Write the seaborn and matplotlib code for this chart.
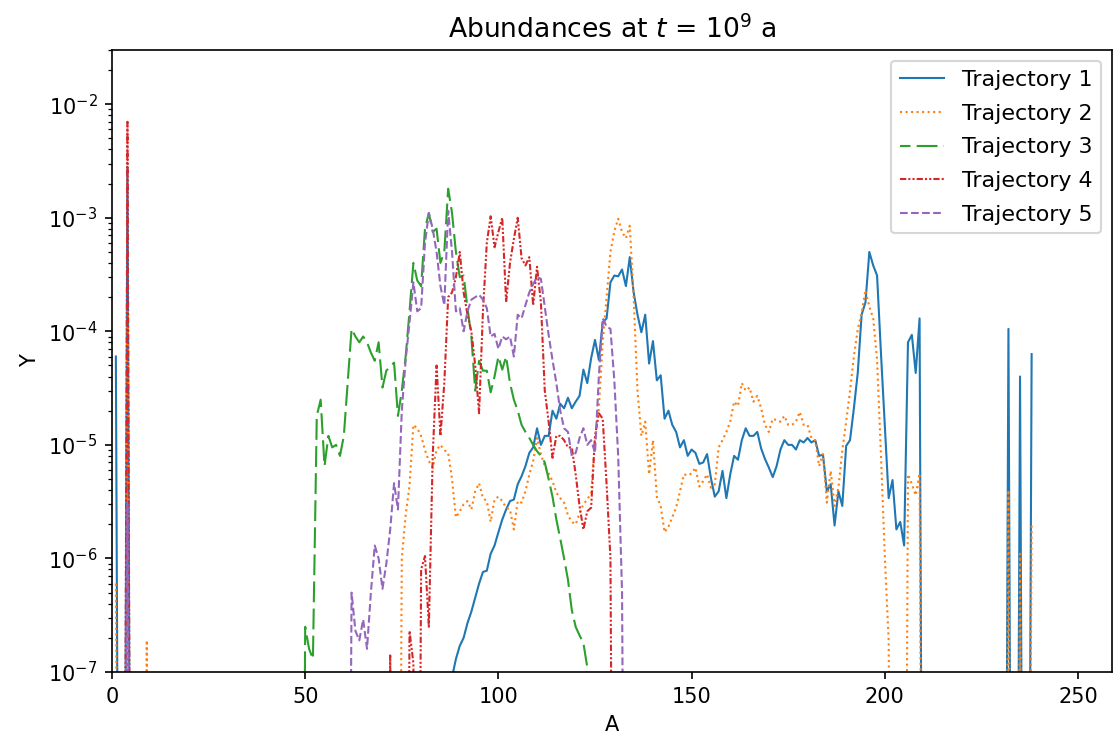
import numpy as np
import matplotlib
matplotlib.use("Agg")
import matplotlib.pyplot as plt
import seaborn as sns

# ---------------- data ----------------
mass_numbers = np.arange(1, 239)          # A = 1 .. 238
below_axis = 1e-12                        # abundance far below the plotted range

labels = ["Trajectory 1", "Trajectory 2", "Trajectory 3", "Trajectory 4", "Trajectory 5"]

# each entry: first A of a contiguous run -> abundances Y for A, A+1, ...
traj1_runs = {
    1: [6e-5],
    4: [2.8e-3],
    88: [9e-8, 1.3e-7, 1.7e-7, 2.0e-7, 2.7e-7, 3.4e-7, 4.5e-7, 6.0e-7, 7.6e-7, 7.8e-7,
         1.1e-6, 1.3e-6, 1.7e-6, 2.2e-6, 2.7e-6, 3.2e-6, 3.3e-6, 4.5e-6, 5.3e-6, 6.5e-6,
         8.5e-6, 9.5e-6, 1.4e-5, 1.0e-5, 1.2e-5, 1.2e-5, 2.0e-5, 1.7e-5, 2.3e-5, 2.1e-5,
         2.6e-5, 2.1e-5, 2.4e-5, 2.7e-5, 4.6e-5, 3.5e-5, 5.8e-5, 8.4e-5, 5.6e-5, 1.2e-4,
         1.3e-4, 2.7e-4, 3.1e-4, 3.05e-4, 3.5e-4, 2.5e-4, 4.5e-4, 2.2e-4, 1.4e-4, 9.8e-5,
         1.4e-4, 5.2e-5, 8.2e-5, 3.7e-5, 4.1e-5, 1.7e-5, 2.0e-5, 1.5e-5, 1.3e-5, 9.5e-6,
         1.1e-5, 8.0e-6, 9.1e-6, 8.5e-6, 6.8e-6, 7.0e-6, 8.3e-6, 5.1e-6, 3.5e-6, 3.9e-6,
         5.9e-6, 3.4e-6, 5.5e-6, 8.0e-6, 7.4e-6, 1.1e-5, 1.4e-5, 1.2e-5, 1.2e-5, 1.3e-5,
         9.3e-6, 7.5e-6, 6.3e-6, 5.2e-6, 6.5e-6, 9.1e-6, 1.1e-5, 1.0e-5, 1.0e-5, 9.1e-6,
         1.1e-5, 1.05e-5, 1.15e-5, 1.05e-5, 1.1e-5, 8.0e-6, 8.2e-6, 3.9e-6, 4.5e-6, 1.95e-6,
         3.9e-6, 2.9e-6, 9.8e-6, 1.1e-5, 2.1e-5, 4.3e-5, 1.4e-4, 1.8e-4, 5.0e-4, 3.8e-4,
         3.1e-4, 6.5e-5, 1.5e-5, 3.4e-6, 4.9e-6, 1.8e-6, 2.1e-6, 1.3e-6, 8.0e-5, 9.3e-5,
         4.3e-5, 1.3e-4],
    232: [1.05e-4],
    235: [4.0e-5],
    238: [6.3e-5],
}

traj2_runs = {
    1: [6e-7],
    4: [1.5e-4],
    9: [1.9e-7],
    75: [1.0e-6, 2.4e-6, 4.4e-6, 1.5e-5, 1.4e-5, 1.2e-5, 9.0e-6, 7.2e-6, 6.3e-6, 9.0e-6,
         1.0e-5, 9.0e-6, 8.5e-6, 5.0e-6, 2.3e-6, 2.6e-6, 3.0e-6, 3.2e-6, 2.7e-6, 3.9e-6,
         4.6e-6, 3.4e-6, 3.2e-6, 2.1e-6, 3.3e-6, 3.5e-6, 3.2e-6, 2.8e-6, 2.7e-6, 1.8e-6,
         3.2e-6, 3.1e-6, 3.9e-6, 5.5e-6, 7.2e-6, 1.15e-5, 8.3e-6, 6.5e-6, 5.6e-6, 4.8e-6,
         3.8e-6, 3.4e-6, 3.1e-6, 2.4e-6, 2.1e-6, 2.0e-6, 2.5e-6, 3.0e-6, 3.3e-6, 3.8e-6,
         1.1e-5, 2.1e-5, 8.0e-5, 2.0e-4, 5.0e-4, 7.6e-4, 9.8e-4, 7.5e-4, 6.6e-4, 8.5e-4,
         2.0e-4, 3.0e-5, 1.2e-5, 1.6e-5, 5.5e-6, 1.1e-5, 3.5e-6, 2.9e-6, 1.7e-6, 1.9e-6,
         2.3e-6, 2.8e-6, 3.9e-6, 5.5e-6, 5.4e-6, 5.6e-6, 6.3e-6, 4.3e-6, 4.8e-6, 5.5e-6,
         4.2e-6, 4.5e-6, 9.5e-6, 1.1e-5, 1.3e-5, 1.6e-5, 2.4e-5, 2.2e-5, 3.5e-5, 3.0e-5,
         3.2e-5, 2.4e-5, 2.7e-5, 2.1e-5, 1.5e-5, 1.3e-5, 1.7e-5, 1.65e-5, 1.6e-5, 1.8e-5,
         1.5e-5, 1.5e-5, 1.6e-5, 1.95e-5, 1.5e-5, 1.5e-5, 1.15e-5, 1.1e-5, 6.5e-6, 8.3e-6,
         3.1e-6, 5.9e-6, 2.9e-6, 4.2e-6, 8.9e-6, 1.6e-5, 3.0e-5, 6.0e-5, 1.04e-4, 1.45e-4,
         2.3e-4, 1.65e-4, 1.3e-4, 5.6e-5, 8.3e-6, 1.05e-6, 1.9e-7],
    206: [5.5e-6, 4.5e-6, 3.6e-6, 5.6e-6],
    232: [4.0e-6],
    235: [1.1e-6],
    238: [2.0e-6],
}

traj3_runs = {
    50: [2.5e-7, 1.6e-7, 1.3e-7, 1.8e-5, 2.5e-5, 6.5e-6, 1.2e-5, 9.5e-6, 1.0e-5, 8.0e-6,
         1.2e-5, 3.5e-5, 1.05e-4, 9.0e-5, 8.0e-5, 9.0e-5, 8.0e-5, 6.5e-5, 5.5e-5, 8.0e-5,
         3.2e-5, 4.5e-5, 4.9e-5, 5.3e-5, 1.8e-5, 3.0e-5, 6.0e-5, 1.5e-4, 4.0e-4, 2.8e-4,
         2.5e-4, 8.0e-4, 1.1e-3, 7.5e-4, 8.0e-4, 4.0e-4, 5.0e-4, 1.8e-3, 1.1e-3, 5.0e-4,
         3.0e-4, 3.1e-4, 1.6e-4, 9.0e-5, 3.0e-5, 5.5e-5, 4.5e-5, 4.5e-5, 2.9e-5, 4.0e-5,
         6.0e-5, 4.6e-5, 6.0e-5, 3.5e-5, 2.5e-5, 2.0e-5, 1.5e-5, 1.3e-5, 1.15e-5, 1.0e-5,
         8.8e-6, 8.0e-6, 7.0e-6, 5.0e-6, 3.5e-6, 2.2e-6, 1.5e-6, 1.0e-6, 6.5e-7, 3.5e-7,
         2.5e-7, 2.1e-7, 1.8e-7, 1.1e-7],
}

traj4_runs = {
    4: [7.0e-3],
    72: [1.4e-7],
    77: [2.3e-7, 1.2e-7],
    80: [8.0e-7, 1.05e-6, 2.5e-7, 8.0e-6, 5.0e-5, 1.2e-5, 3.5e-5, 2.0e-4, 2.2e-4, 3.0e-4,
         5.0e-4, 2.2e-4, 1.4e-4, 1.0e-4, 5.0e-5, 1.9e-5, 1.5e-4, 6.0e-4, 1.03e-3, 5.5e-4,
         7.5e-4, 1.0e-3, 1.8e-4, 4.0e-4, 6.5e-4, 1.0e-3, 4.4e-4, 3.8e-4, 4.5e-4, 1.7e-4,
         3.7e-4, 1.8e-4, 3.0e-5, 1.6e-5, 7.7e-6, 1.2e-5, 1.2e-5, 1.1e-5, 9.5e-6, 9.5e-6,
         5.5e-6, 2.9e-6, 1.8e-6, 2.6e-6, 2.8e-6, 1.2e-5, 1.9e-5, 1.7e-5, 4.5e-6, 1.0e-6],
}

traj5_runs = {
    4: [3.0e-6],
    62: [5.0e-7, 2.3e-7, 1.9e-7, 2.9e-7, 1.6e-7, 5.0e-7, 1.3e-6, 1.0e-6, 5.4e-7, 9.0e-7,
         1.8e-6, 4.6e-6, 2.7e-6, 2.0e-5, 5.6e-5, 1.2e-4, 2.7e-4, 1.5e-4, 1.6e-4, 6.0e-4,
         1.1e-3, 8.0e-4, 5.0e-4, 2.5e-4, 1.7e-4, 1.15e-3, 5.0e-4, 1.5e-4, 1.6e-4, 1.0e-4,
         1.5e-4, 1.9e-4, 2.0e-4, 2.1e-4, 1.9e-4, 1.6e-4, 9.0e-5, 9.5e-5, 7.0e-5, 9.0e-5,
         8.5e-5, 9.0e-5, 6.0e-5, 1.4e-4, 1.3e-4, 1.7e-4, 2.2e-4, 2.6e-4, 3.0e-4, 2.9e-4,
         1.65e-4, 9.3e-5, 5.6e-5, 3.5e-5, 2.0e-5, 1.4e-5, 1.3e-5, 8.0e-6, 8.5e-6, 1.15e-5,
         1.4e-5, 1.0e-5, 1.1e-5, 8.5e-6, 4.0e-5, 1.3e-4, 1.1e-4, 1.05e-4, 3.7e-5, 8.0e-6,
         5.0e-7],
}


def build_series(runs):
    y = np.full(mass_numbers.size, below_axis)
    for start, vals in runs.items():
        i = start - mass_numbers[0]
        y[i:i + len(vals)] = vals
    return y


all_runs = [traj1_runs, traj2_runs, traj3_runs, traj4_runs, traj5_runs]
colors = sns.color_palette("tab10", 5)
styles = ["-", ":", (5, (10, 3)), (0, (3, 1, 1, 1, 1, 1)), "--"]

# ---------------- figure ----------------
fig = plt.figure(figsize=(1113 / 150, 742 / 150), dpi=150)
ax = fig.add_axes([112 / 1113, 70 / 742, 1000 / 1113, 622 / 742])
ax.set_yscale("log")

for runs, lab, col, ls in zip(all_runs, labels, colors, styles):
    sns.lineplot(x=mass_numbers, y=build_series(runs), ax=ax, color=col,
                 linestyle=ls, linewidth=1.0, label=lab,
                 estimator=None, errorbar=None, sort=False)

ax.set_xlim(0, 258.8)
ax.set_ylim(1e-7, 3e-2)
ax.set_xlabel("A")
ax.set_ylabel("Y")
ax.set_title(r"Abundances at $t$ = $10^9$ a", fontsize=12.8)
ax.legend(loc="upper right", fontsize=10.6, labelspacing=0.62)

fig.savefig("out.png", dpi=150)
